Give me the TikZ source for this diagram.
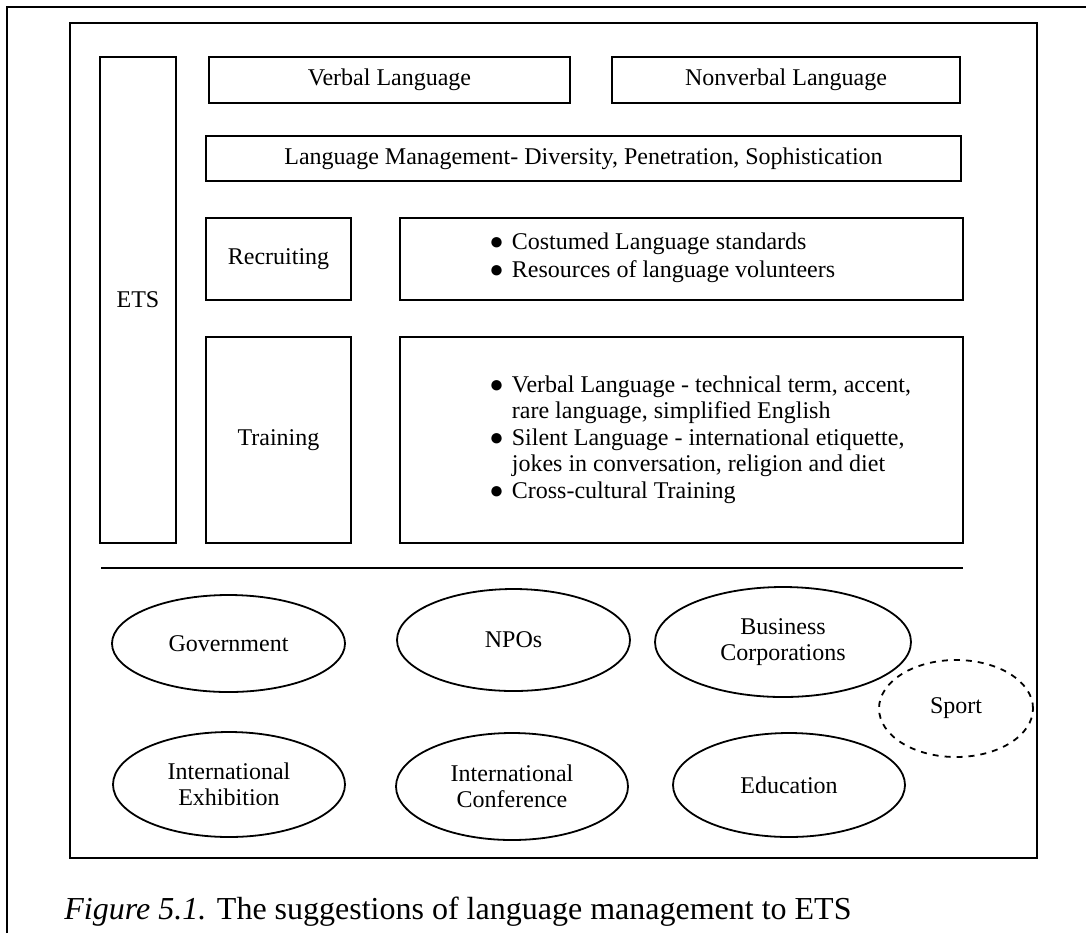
\documentclass[tikz,border=0pt]{standalone}
\usepackage{fontspec}
\setmainfont{Liberation Serif}
\usetikzlibrary{shapes.geometric}
\newcommand{\bodyfont}{\fontsize{12}{13.2}\selectfont}
\begin{document}
\begin{tikzpicture}[x=0.5pt,y=-0.5pt,
  frameline/.style={line width=1pt},
  box/.style={draw, line width=1pt, inner sep=0pt, font=\bodyfont, align=center},
  oval/.style={draw, ellipse, line width=0.9pt, inner sep=0pt, font=\bodyfont, align=center},
  list/.style={anchor=west, inner sep=0pt, font=\bodyfont, align=left}]
\useasboundingbox (0,0) rectangle (1086,933);

% page frame and figure frame
\draw[frameline] (7,933) -- (7,7) -- (1086,7);
\draw[frameline] (70,23) rectangle (1037,858);

% upper block
\node[box, minimum width=38pt, minimum height=243pt] (ets) at (138,300) {ETS};
\node[box, minimum width=180.5pt, minimum height=23pt] (verbal) at (389.5,80) {Verbal Language};
\node[box, minimum width=174pt, minimum height=23pt] (nonverbal) at (786,80) {Nonverbal Language};
\node[box, minimum width=377.5pt, minimum height=22.5pt] (mgmt) at (583.5,158.5)
  {Language Management- Diversity, Penetration, Sophistication};
\node[box, minimum width=72.5pt, minimum height=41pt] (recruit) at (278.5,259) {Recruiting};
\node[box, minimum width=281.5pt, minimum height=41pt] (stdbox) at (681.5,259) {};
\node[box, minimum width=72.5pt, minimum height=103pt] (train) at (278.5,440) {Training};
\node[box, minimum width=281.5pt, minimum height=103pt] (trainbox) at (681.5,440) {};

\node[list] (stdlist) at (489,258) {\begin{tabular}{@{}l@{\hspace{4pt}}l@{}}
●&Costumed Language standards\\[1pt]
●&Resources of language volunteers
\end{tabular}};
\node[list] (trainlist) at (489,440) {\begin{tabular}{@{}l@{\hspace{4pt}}l@{}}
●&Verbal Language - technical term, accent,\\
&rare language, simplified English\\
●&Silent Language - international etiquette,\\
&jokes in conversation, religion and diet\\
●&Cross-cultural Training
\end{tabular}};

% separator
\coordinate (sepL) at (101,568);
\coordinate (sepR) at (963,568);
\draw[line width=1pt] (sepL) -- (sepR);

% stakeholders
\node[oval, minimum width=116.5pt, minimum height=48.5pt] (gov) at (228.5,643.5) {Government};
\node[oval, minimum width=116.5pt, minimum height=51pt] (npo) at (513.5,640) {NPOs};
\node[oval, minimum width=128pt, minimum height=55pt] (biz) at (783,642) {Business\\Corporations};
\node[oval, dashed, minimum width=77pt, minimum height=48.5pt] (sport) at (956,708.5) {Sport};
\node[oval, minimum width=116pt, minimum height=52.5pt] (exh) at (229,784.5) {International\\Exhibition};
\node[oval, minimum width=116pt, minimum height=53.5pt] (conf) at (512,786.5) {International\\Conference};
\node[oval, minimum width=116pt, minimum height=52pt] (edu) at (789,785) {Education};

% caption
\node[anchor=base west, inner sep=0pt, font=\fontsize{16}{19}\selectfont] (caption) at (64,919)
  {\itshape Figure 5.1.\upshape{} The suggestions of language management to ETS};
\end{tikzpicture}
\end{document}
